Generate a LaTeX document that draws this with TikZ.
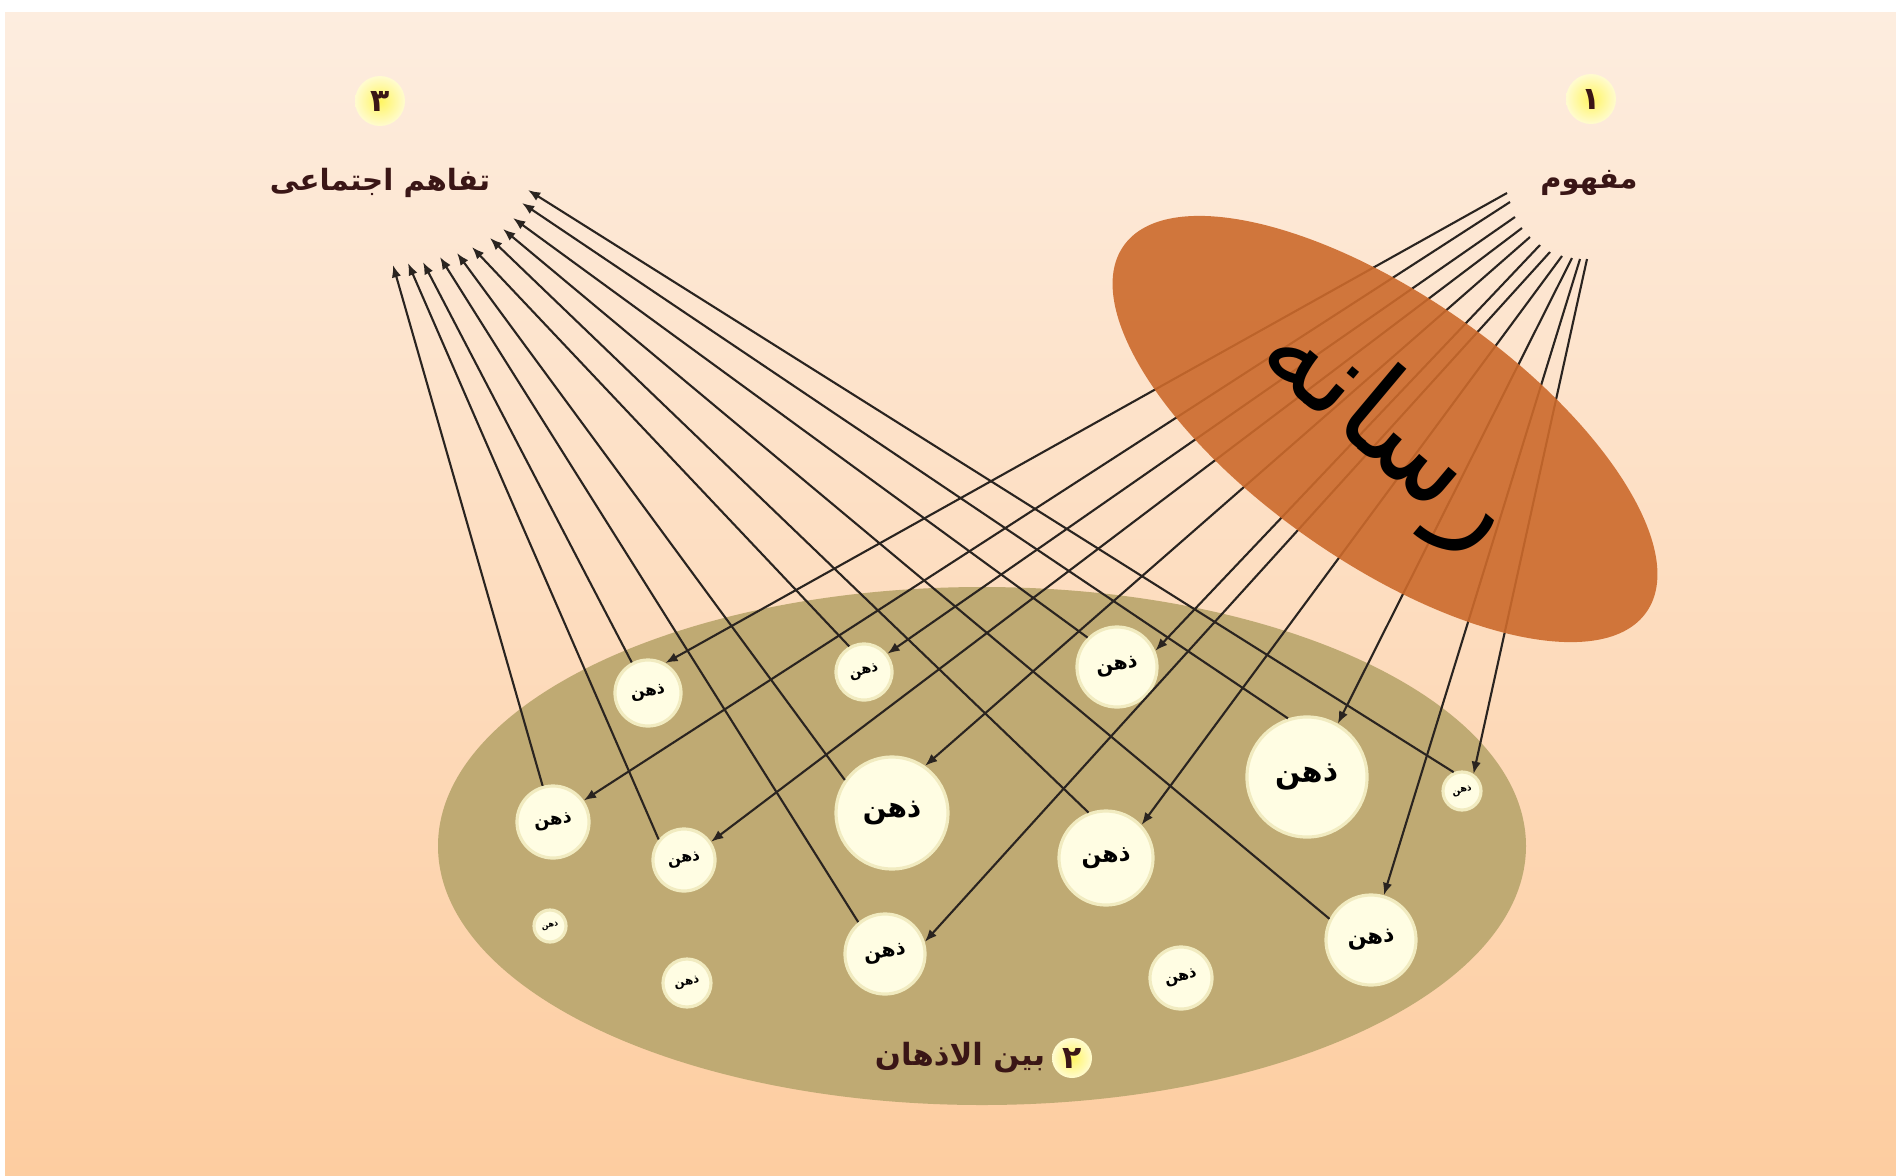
\documentclass[tikz,border=0pt]{standalone}
\usepackage{fontspec}
\usepackage{graphicx}
\usetikzlibrary{arrows.meta,shapes.geometric}
\newfontfamily\arabicfont[Script=Arabic]{DejaVu Sans}
\TeXXeTstate=1
\definecolor{bgtop}{HTML}{FDEDDF}
\definecolor{bgbot}{HTML}{FDCDA0}
\definecolor{olive}{HTML}{BFAA73}
\definecolor{cream}{HTML}{FFFDE3}
\definecolor{creamedge}{HTML}{F1EBC0}
\definecolor{media}{HTML}{CC6A2C}
\definecolor{linec}{HTML}{2A2420}
\definecolor{labelc}{HTML}{3A1616}
\definecolor{badgein}{HTML}{FFF560}
\definecolor{badgeout}{HTML}{FFFBD0}
\newcommand{\artext}[1]{{\arabicfont\bfseries\beginR #1\endR}}
\newcommand{\arthin}[1]{{\arabicfont\beginR #1\endR}}
\newcommand{\mind}[5]{%
  \node[mindnode, minimum size=#4*0.02cm] (#1) at (#2,#3) {};
  \pgfmathsetlengthmacro\mindw{#4*0.0105cm}%
  \node[rotate=#5, inner sep=0pt] (#1t) at (#1) {\resizebox{\mindw}{!}{\artext{ذهن}}};
}
\newcommand{\badge}[4]{%
  \shade[inner color=badgein, outer color=badgeout] (#2,#3) circle (#4);
  \node[inner sep=0pt, text=labelc] (#1) at (#2,#3) {\resizebox{!}{0.2cm}{\artext{#1}}};
}
\begin{document}
\begin{tikzpicture}[x=0.01cm, y=-0.01cm,
  mindnode/.style={circle, fill=cream, draw=creamedge, line width=0.9pt, inner sep=0pt},
  conn/.style={draw=linec, line width=0.6pt, -{Latex[length=3.5pt,width=2.7pt]}}]
\useasboundingbox (0,0) rectangle (1896,1175);
\fill[white] (0,0) rectangle (1896,1175);
\shade[top color=bgtop, bottom color=bgbot] (5,12) rectangle (1896,1175);
% inter-mind ellipse
\fill[olive] (982,846) ellipse [x radius=544, y radius=259];
% minds
\mind{c1}{648}{693}{33}{10}
\mind{c2}{864}{672}{28}{15}
\mind{c3}{1117}{667}{40}{10}
\mind{c4}{1307}{777}{60}{3}
\mind{c5}{1462}{791}{19}{15}
\mind{c6}{553}{822}{36}{8}
\mind{c7}{684}{860}{31}{10}
\mind{c8}{892}{813}{56}{2}
\mind{c9}{1106}{858}{47}{3}
\mind{c10}{1371}{940}{45}{5}
\mind{c11}{550}{926}{16}{15}
\mind{c12}{687}{983}{24}{10}
\mind{c13}{885}{954}{40}{8}
\mind{c14}{1181}{978}{31}{15}
% fan starts (concept)
\coordinate (s1) at (1507,193);
\coordinate (s2) at (1510,202);
\coordinate (s3) at (1515,217);
\coordinate (s4) at (1522,228);
\coordinate (s5) at (1530,237);
\coordinate (s6) at (1540,245);
\coordinate (s7) at (1550,252);
\coordinate (s8) at (1562,256);
\coordinate (s9) at (1572,258);
\coordinate (s10) at (1580,259);
\coordinate (s11) at (1587,259);
% fan tips (social understanding)
\coordinate (t1) at (393,265);
\coordinate (t2) at (408,263);
\coordinate (t3) at (423,262);
\coordinate (t4) at (440,257);
\coordinate (t5) at (457,253);
\coordinate (t6) at (472,247);
\coordinate (t7) at (490,238);
\coordinate (t8) at (503,229);
\coordinate (t9) at (513,218);
\coordinate (t10) at (522,203);
\coordinate (t11) at (528,190);
% concept -> minds
\draw[conn] (s1) -- (c1.60);
\draw[conn] (s2) -- (c6.35);
\draw[conn] (s3) -- (c2.38);
\draw[conn] (s4) -- (c7.34);
\draw[conn] (s5) -- (c8.55);
\draw[conn] (s6) -- (c3.23);
\draw[conn] (s7) -- (c13.17);
\draw[conn] (s8) -- (c9.43);
\draw[conn] (s9) -- (c4.60);
\draw[conn] (s10) -- (c10.74);
\draw[conn] (s11) -- (c5.56);
% minds -> social understanding
\draw[conn] (c6.106) -- (t1);
\draw[conn] (c7.141) -- (t2);
\draw[conn] (c1.118) -- (t3);
\draw[conn] (c13.130) -- (t4);
\draw[conn] (c8.145) -- (t5);
\draw[conn] (c2.120) -- (t6);
\draw[conn] (c9.111) -- (t7);
\draw[conn] (c10.153) -- (t8);
\draw[conn] (c3.135) -- (t9);
\draw[conn] (c4.108) -- (t10);
\draw[conn] (c5.114) -- (t11);
% media ellipse
\node[ellipse, fill=media, fill opacity=0.9, minimum width=6.38cm, minimum height=2.66cm, inner sep=0pt, rotate=-35] (mediaell) at (1385,429) {};
\node[rotate=-40, inner sep=0pt] (mediatxt) at (1388,433) {\resizebox{2.96cm}{!}{\arthin{رسانه}}};
% labels
\node[inner sep=0pt, text=labelc] (lab3) at (380,183) {\resizebox{2.2cm}{!}{\artext{تفاهم اجتماعی}}};
\node[inner sep=0pt, text=labelc] (lab1) at (1589,183) {\resizebox{0.97cm}{!}{\artext{مفهوم}}};
\node[inner sep=0pt, text=labelc] (lab2) at (960,1058) {\resizebox{1.7cm}{!}{\artext{بین الاذهان}}};
% badges
\badge{۳}{380}{101}{25}
\badge{۱}{1591}{99}{25}
\badge{۲}{1072}{1058}{20}
\end{tikzpicture}
\end{document}
